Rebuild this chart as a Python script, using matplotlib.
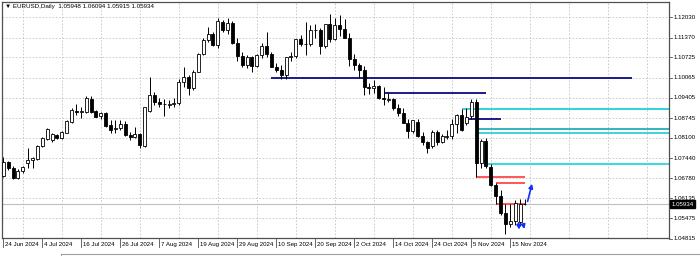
import matplotlib.pyplot as plt
import matplotlib.transforms as mtransforms
from matplotlib.lines import Line2D

plt.rcParams['font.family'] = ['Liberation Sans', 'DejaVu Sans']

# --- EURUSD daily bars, bar 0 = 24 Jun 2024 ---
opens = [1.0686, 1.0732, 1.0713, 1.0679, 1.0702, 1.0727, 1.0739, 1.0742, 1.0784, 1.0806,
         1.0802, 1.0820, 1.0811, 1.0826, 1.0863, 1.0897, 1.0895, 1.0893, 1.0937, 1.0899,
         1.0881, 1.0890, 1.0851, 1.0839, 1.0843, 1.0855, 1.0819, 1.0813, 1.0823, 1.0785,
         1.0896, 1.0950, 1.0928, 1.0920, 1.0917, 1.0921, 1.0924, 1.0991, 1.1010, 1.0971,
         1.1026, 1.1082, 1.1129, 1.1148, 1.1112, 1.1188, 1.1160, 1.1183, 1.1120, 1.1077,
         1.1047, 1.1073, 1.1045, 1.1079, 1.1111, 1.1084, 1.1040, 1.1031, 1.1014, 1.1072,
         1.1076, 1.1132, 1.1116, 1.1117, 1.1161, 1.1163, 1.1111, 1.1180, 1.1133, 1.1177,
         1.1164, 1.1135, 1.1068, 1.1046, 1.1031, 1.0975, 1.0974, 1.0978, 1.0941, 1.0932,
         1.0936, 1.0908, 1.0891, 1.0860, 1.0833, 1.0862, 1.0817, 1.0796, 1.0782, 1.0828,
         1.0796, 1.0813, 1.0816, 1.0855, 1.0884, 1.0858, 1.0880, 1.0928, 1.0727, 1.0800,
         1.0715, 1.0656, 1.0621, 1.0564, 1.0529, 1.0540, 1.0535, 1.05948]
highs = [1.0747, 1.0736, 1.0718, 1.0707, 1.0718, 1.0776, 1.0749, 1.0787, 1.0814, 1.0841,
         1.0827, 1.0823, 1.0833, 1.0868, 1.0908, 1.0922, 1.0910, 1.0946, 1.0946, 1.0901,
         1.0895, 1.0895, 1.0867, 1.0867, 1.0868, 1.0866, 1.0828, 1.0846, 1.0826, 1.0912,
         1.1010, 1.0961, 1.0939, 1.0936, 1.0933, 1.0940, 1.1002, 1.1042, 1.1015, 1.1032,
         1.1085, 1.1136, 1.1172, 1.1155, 1.1201, 1.1195, 1.1202, 1.1190, 1.1136, 1.1090,
         1.1080, 1.1077, 1.1082, 1.1119, 1.1155, 1.1090, 1.1054, 1.1047, 1.1075, 1.1091,
         1.1132, 1.1146, 1.1189, 1.1179, 1.1182, 1.1168, 1.1181, 1.1214, 1.1201, 1.1209,
         1.1196, 1.1151, 1.1083, 1.1053, 1.1045, 1.0990, 1.0999, 1.0983, 1.0975, 1.0956,
         1.0940, 1.0922, 1.0906, 1.0872, 1.0869, 1.0870, 1.0830, 1.0800, 1.0836, 1.0837,
         1.0823, 1.0836, 1.0870, 1.0889, 1.0905, 1.0906, 1.0937, 1.0937, 1.0806, 1.0810,
         1.0726, 1.0663, 1.0639, 1.0595, 1.0594, 1.0608, 1.0610, 1.06094]
lows = [1.0682, 1.0705, 1.0675, 1.0675, 1.0694, 1.0711, 1.0711, 1.0738, 1.0779, 1.0803,
        1.0798, 1.0807, 1.0807, 1.0825, 1.0860, 1.0885, 1.0874, 1.0892, 1.0892, 1.0877,
        1.0873, 1.0846, 1.0826, 1.0826, 1.0835, 1.0816, 1.0803, 1.0809, 1.0778, 1.0781,
        1.0893, 1.0917, 1.0911, 1.0882, 1.0906, 1.0910, 1.0918, 1.0977, 1.0950, 1.0966,
        1.1026, 1.1080, 1.1124, 1.1108, 1.1104, 1.1154, 1.1148, 1.1116, 1.1060, 1.1040,
        1.1038, 1.1026, 1.1040, 1.1070, 1.1072, 1.1040, 1.1025, 1.1002, 1.1001, 1.1060,
        1.1070, 1.1108, 1.1080, 1.1110, 1.1136, 1.1083, 1.1104, 1.1121, 1.1130, 1.1142,
        1.1134, 1.1043, 1.1032, 1.1005, 1.0951, 1.0953, 1.0955, 1.0938, 1.0916, 1.0926,
        1.0901, 1.0881, 1.0857, 1.0811, 1.0827, 1.0812, 1.0786, 1.0761, 1.0778, 1.0788,
        1.0794, 1.0805, 1.0806, 1.0827, 1.0832, 1.0852, 1.0870, 1.0684, 1.0711, 1.0713,
        1.0653, 1.0595, 1.0560, 1.0496, 1.0518, 1.0525, 1.0523, 1.05915]
closes = [1.0732, 1.0711, 1.0679, 1.0702, 1.0714, 1.0738, 1.0743, 1.0783, 1.0808, 1.0839,
          1.0823, 1.0811, 1.0830, 1.0865, 1.0901, 1.0895, 1.0897, 1.0939, 1.0894, 1.0879,
          1.0890, 1.0850, 1.0836, 1.0843, 1.0854, 1.0819, 1.0814, 1.0824, 1.0787, 1.0909,
          1.0951, 1.0928, 1.0921, 1.0919, 1.0921, 1.0925, 1.0991, 1.1010, 1.0971, 1.1026,
          1.1082, 1.1129, 1.1148, 1.1112, 1.1192, 1.1160, 1.1183, 1.1120, 1.1077, 1.1047,
          1.1073, 1.1045, 1.1079, 1.1111, 1.1084, 1.1040, 1.1031, 1.1014, 1.1072, 1.1076,
          1.1132, 1.1116, 1.1117, 1.1161, 1.1163, 1.1111, 1.1180, 1.1133, 1.1177, 1.1164,
          1.1135, 1.1068, 1.1046, 1.1031, 1.0975, 1.0974, 1.0978, 1.0941, 1.0938, 1.0938,
          1.0908, 1.0891, 1.0860, 1.0833, 1.0867, 1.0817, 1.0796, 1.0778, 1.0828, 1.0796,
          1.0817, 1.0816, 1.0855, 1.0884, 1.0834, 1.0877, 1.0928, 1.0727, 1.0800, 1.0719,
          1.0656, 1.0620, 1.0564, 1.0529, 1.0540, 1.0598, 1.0596, 1.05934]

date_labels = ['24 Jun 2024', '4 Jul 2024', '16 Jul 2024', '26 Jul 2024', '7 Aug 2024',
               '19 Aug 2024', '29 Aug 2024', '10 Sep 2024', '20 Sep 2024', '2 Oct 2024',
               '14 Oct 2024', '24 Oct 2024', '5 Nov 2024', '15 Nov 2024']
label_bars = list(range(0, 105, 8))
grid_bars = list(range(4, 137, 8))

price_ticks = [1.12030, 1.11370, 1.10725, 1.10065, 1.09405, 1.08745,
               1.08100, 1.07440, 1.06780, 1.06135, 1.05475, 1.04815]
bid = 1.05934
header = '\u25bc EURUSD,Daily  1.05948 1.06094 1.05915 1.05934'

# drawn objects: level, first bar, last bar
navy_levels = [1.1004, 1.0955, 1.0872]
navy_start = [55, 78, 95]
navy_end = [129, 99, 102]
cyan_levels = [1.0904, 1.0838, 1.0827, 1.0725]
cyan_start = [94, 97, 97, 99.2]
red_levels = [1.0683, 1.0664, 1.0594]
red_start = [97, 101, 101]
red_end = [107, 107, 107]

fig = plt.figure(figsize=(7, 2.56), dpi=100)
ax = fig.add_axes([2 / 700, 18.5 / 256, 667 / 700, 236 / 256])
ax.set_xlim(-0.27, 136.55)
ax.set_ylim(1.04852, 1.12545)

# grid
for v in price_ticks:
    ax.axhline(v, color='#c4c4c4', lw=0.6, ls=(0, (2, 2)), zorder=1)
for b in grid_bars:
    ax.axvline(b, color='#c4c4c4', lw=0.6, ls=(0, (2, 2)), zorder=1)

# levels
for lv, s, e in zip(navy_levels, navy_start, navy_end):
    ax.hlines(lv, s, e, color='#0a0a80', lw=1.3, zorder=2)
cyan_cols = ['#1ed2d8', '#22b0b0', '#2fd0d4', '#2ad6dc']
for lv, s, c in zip(cyan_levels, cyan_start, cyan_cols):
    ax.hlines(lv, s, 137, color=c, lw=1.3, zorder=2)
ax.axhline(bid, color='#c0c0c0', lw=0.8, zorder=2)
for lv, s, e in zip(red_levels, red_start, red_end):
    ax.hlines(lv, s, e, color='#ff4848', lw=1.3, zorder=2)

# candles
x = list(range(len(opens)))
ax.vlines(x, lows, highs, color='black', lw=0.7, zorder=3)
for i in x:
    o, c = opens[i], closes[i]
    lo = min(o, c)
    h = max(abs(c - o), 0.00004)
    fc = 'white' if c >= o else 'black'
    ax.bar(i, h, bottom=lo, width=0.62, color=fc, edgecolor='black', lw=0.6, zorder=4)

# arrows
arrow_kw = dict(arrowstyle='-|>', color='#1030ff', lw=1.2, mutation_scale=6)
ax.annotate('', xy=(108.6, 1.0669), xytext=(107.4, 1.0594), arrowprops=arrow_kw, zorder=5)
ax.annotate('', xy=(105.9, 1.0502), xytext=(105.6, 1.0542), arrowprops=arrow_kw, zorder=5)
ax.annotate('', xy=(107.0, 1.0504), xytext=(106.5, 1.0538), arrowprops=arrow_kw, zorder=5)

# frame
for sp in ax.spines.values():
    sp.set_color('#505050')
    sp.set_linewidth(0.9)
ax.set_xticks([])
ax.set_yticks([])

# price axis
ytr = mtransforms.blended_transform_factory(ax.transAxes, ax.transData)
for v in price_ticks:
    ax.add_line(Line2D([1.0, 1.0045], [v, v], transform=ytr, color='#505050', lw=0.6, clip_on=False))
    ax.text(1.0075, v, f'{v:.5f}', transform=ytr, fontsize=4.4, va='center', ha='left', clip_on=False)
ax.text(1.0035, bid, f'{bid:.5f}', transform=ytr, fontsize=4.4, va='center', ha='left', color='white',
        bbox=dict(boxstyle='square,pad=0.25', fc='black', ec='black'), clip_on=False, zorder=6)

# time axis
xtr = mtransforms.blended_transform_factory(ax.transData, ax.transAxes)
for b, lab in zip(label_bars, date_labels):
    ax.add_line(Line2D([b, b], [-0.008, -0.04], transform=xtr, color='#505050', lw=0.6, clip_on=False))
    ax.text(b + 0.35, -0.031, lab, transform=xtr, fontsize=4.4, va='center', ha='left', clip_on=False)

fig.text(5 / 700, 1 - 6.8 / 256, header, fontsize=4.5, va='center', ha='left')

# tab bar strip at the bottom
fig.add_artist(Line2D([61 / 700, 1], [2.5 / 256, 2.5 / 256], color='#a0a0a0', lw=0.8))
fig.add_artist(Line2D([61 / 700, 61 / 700], [0, 2.5 / 256], color='#a0a0a0', lw=0.8))

fig.savefig('out.png', dpi=100)
